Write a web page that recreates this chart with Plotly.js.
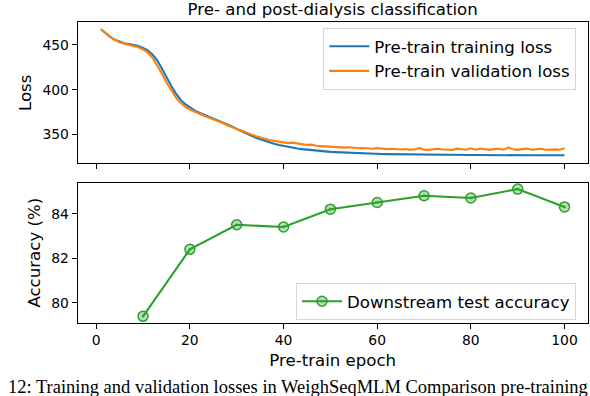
<!DOCTYPE html>
<html>
<head>
<meta charset="utf-8">
<script src="https://cdn.plot.ly/plotly-3.0.1.min.js"></script>
<style>
  html, body { margin: 0; padding: 0; background: #fff; }
  #chart { width: 590px; height: 396px; }
</style>
</head>
<body>
<div id="chart"></div>
<script>
const epochs = [1, 2, 3, 4, 5, 6, 7, 8, 9, 10, 11, 12, 13, 14, 15, 16, 17, 18, 19, 20,
  21, 22, 23, 24, 25, 26, 27, 28, 29, 30, 31, 32, 33, 34, 35, 36, 37, 38, 39, 40,
  41, 42, 43, 44, 45, 46, 47, 48, 49, 50, 51, 52, 53, 54, 55, 56, 57, 58, 59, 60,
  61, 62, 63, 64, 65, 66, 67, 68, 69, 70, 71, 72, 73, 74, 75, 76, 77, 78, 79, 80,
  81, 82, 83, 84, 85, 86, 87, 88, 89, 90, 91, 92, 93, 94, 95, 96, 97, 98, 99, 100];

const trainLoss = [467.5, 463, 459, 455.8, 453.5, 452, 451, 450, 448.8, 446.8,
  444, 439.5, 433, 424, 414, 404.5, 396, 389, 384, 380,
  377, 374.5, 372.3, 370.3, 368.3, 366.2, 364, 361.5, 359, 356.3,
  353.8, 351.3, 349, 346.8, 344.8, 343, 341.3, 339.8, 338.5, 337.3,
  336.2, 335.3, 334.5, 333.8, 333.2, 332.6, 332.1, 331.6, 331.2, 330.8,
  330.5, 330.2, 329.9, 329.6, 329.4, 329.2, 329, 328.8, 328.6, 328.4,
  328.3, 328.2, 328.1, 328, 327.9, 327.8, 327.8, 327.7, 327.6, 327.6,
  327.5, 327.6, 327.5, 327.4, 327.4, 327.3, 327.4, 327.3, 327.3, 327.2,
  327.3, 327.2, 327.1, 327.2, 327.1, 327.1, 327.2, 327, 327.1, 327,
  327.1, 327, 326.9, 327, 326.9, 327, 326.9, 326.9, 327, 327];

const valLoss = [467.5, 463, 459, 455.5, 453, 451.5, 450.3, 449, 447.5, 445,
  441.5, 436, 428, 418.5, 408.5, 399.5, 391.5, 385.5, 381, 378,
  375.5, 373, 371, 369, 367, 365.5, 363, 360.5, 358.3, 356.5,
  354.5, 352.3, 350.3, 348.5, 346.8, 345.3, 344, 343, 342, 341,
  340.5, 341, 340.3, 339, 338.5, 338.8, 337.5, 337.2, 336.8, 336.5,
  336.8, 335.8, 335.5, 335.9, 335.2, 334.8, 335, 334.5, 334.3, 334.9,
  334, 333.8, 334.2, 333.6, 333.4, 334, 333.2, 333.5, 335, 333.3,
  333, 333.6, 334.2, 333.4, 333, 332.8, 334.3, 333.5, 333.1, 334.8,
  333.2, 334.5, 333.5, 333, 333.8, 334.3, 333.2, 335.5, 333.6, 333,
  333.8, 334.4, 333.2, 333.9, 334.3, 333.1, 333.7, 333.5, 333.2, 334.8];

const accEpochs = [10, 20, 30, 40, 50, 60, 70, 80, 90, 100];
const accuracy = [79.4, 82.4, 83.5, 83.4, 84.2, 84.5, 84.8, 84.7, 85.1, 84.3];

const xTicks = [0, 20, 40, 60, 80, 100];
const lossTicks = [350, 400, 450];
const accTicks = [80, 82, 84];

const W = 590, H = 396;
const FONT = "DejaVu Sans, sans-serif";

const traces = [
  {
    x: epochs, y: trainLoss, type: "scatter", mode: "lines", name: "Pre-train training loss",
    xaxis: "x", yaxis: "y", legend: "legend",
    line: { color: "#1f77b4", width: 2.1 }
  },
  {
    x: epochs, y: valLoss, type: "scatter", mode: "lines", name: "Pre-train validation loss",
    xaxis: "x", yaxis: "y", legend: "legend",
    line: { color: "#ff7f0e", width: 2.1 }
  },
  {
    x: accEpochs, y: accuracy, type: "scatter", mode: "lines+markers", name: "Downstream test accuracy",
    xaxis: "x2", yaxis: "y2", legend: "legend2",
    line: { color: "#2ca02c", width: 2.1 },
    marker: { symbol: "circle-dot", size: 10, color: "rgba(44,160,44,0.35)", line: { color: "#2ca02c", width: 1.5 } }
  }
];

const axisBase = {
  showline: true, mirror: true, linecolor: "#000", linewidth: 1,
  ticks: "outside", ticklen: 5, tickwidth: 1, tickcolor: "#000",
  showgrid: false, zeroline: false,
  tickfont: { family: FONT, size: 13.9, color: "#000" }
};

const layout = {
  width: W, height: H,
  paper_bgcolor: "#fff", plot_bgcolor: "#fff",
  margin: { l: 0, r: 0, t: 0, b: 0 },
  font: { family: FONT, color: "#000" },
  showlegend: true,
  title: {
    text: "Pre- and post-dialysis classification",
    font: { family: FONT, size: 16.6, color: "#000" },
    xref: "paper", x: 332.7 / W, xanchor: "center",
    yref: "container", y: 1 - 9 / H, yanchor: "middle"
  },
  xaxis: Object.assign({}, axisBase, {
    domain: [77.7 / W, 587.7 / W], range: [-3.95, 104.95],
    tickvals: xTicks, showticklabels: false, anchor: "y"
  }),
  yaxis: Object.assign({}, axisBase, {
    domain: [1 - 163.3 / H, 1 - 22.3 / H], range: [318, 475.3],
    tickvals: lossTicks, anchor: "x",
    title: { text: "Loss", font: { family: FONT, size: 16.6, color: "#000" }, standoff: 6 }
  }),
  xaxis2: Object.assign({}, axisBase, {
    domain: [77.7 / W, 587.7 / W], range: [-3.95, 104.95],
    tickvals: xTicks, anchor: "y2",
    title: { text: "Pre-train epoch", font: { family: FONT, size: 16.6, color: "#000" }, standoff: 7 }
  }),
  yaxis2: Object.assign({}, axisBase, {
    domain: [1 - 322.7 / H, 1 - 182.7 / H], range: [79.115, 85.385],
    tickvals: accTicks, anchor: "x2",
    title: { text: "Accuracy (%)", font: { family: FONT, size: 16.6, color: "#000" }, standoff: 6 }
  }),
  legend: {
    x: 323.3 / W, y: 1 - 28 / H, xanchor: "left", yanchor: "top",
    bgcolor: "rgba(255,255,255,0.8)", bordercolor: "#d6d6d6", borderwidth: 1,
    font: { family: FONT, size: 16.6, color: "#000" }, itemwidth: 40, tracegroupgap: 0
  },
  legend2: {
    x: 296 / W, y: 1 - 283 / H, xanchor: "left", yanchor: "top",
    bgcolor: "rgba(255,255,255,0.8)", bordercolor: "#d6d6d6", borderwidth: 1,
    font: { family: FONT, size: 16.6, color: "#000" }, itemwidth: 40
  },
  annotations: [
    {
      text: "12: Training and validation losses in WeighSeqMLM Comparison pre-training",
      xref: "paper", yref: "paper", x: 6 / W, y: (H - 375) / H,
      xanchor: "left", yanchor: "top", showarrow: false,
      font: { family: "Liberation Serif, serif", size: 18.5, color: "#000" }
    }
  ]
};

Plotly.newPlot("chart", traces, layout, { displayModeBar: false, staticPlot: true });
</script>
</body>
</html>
